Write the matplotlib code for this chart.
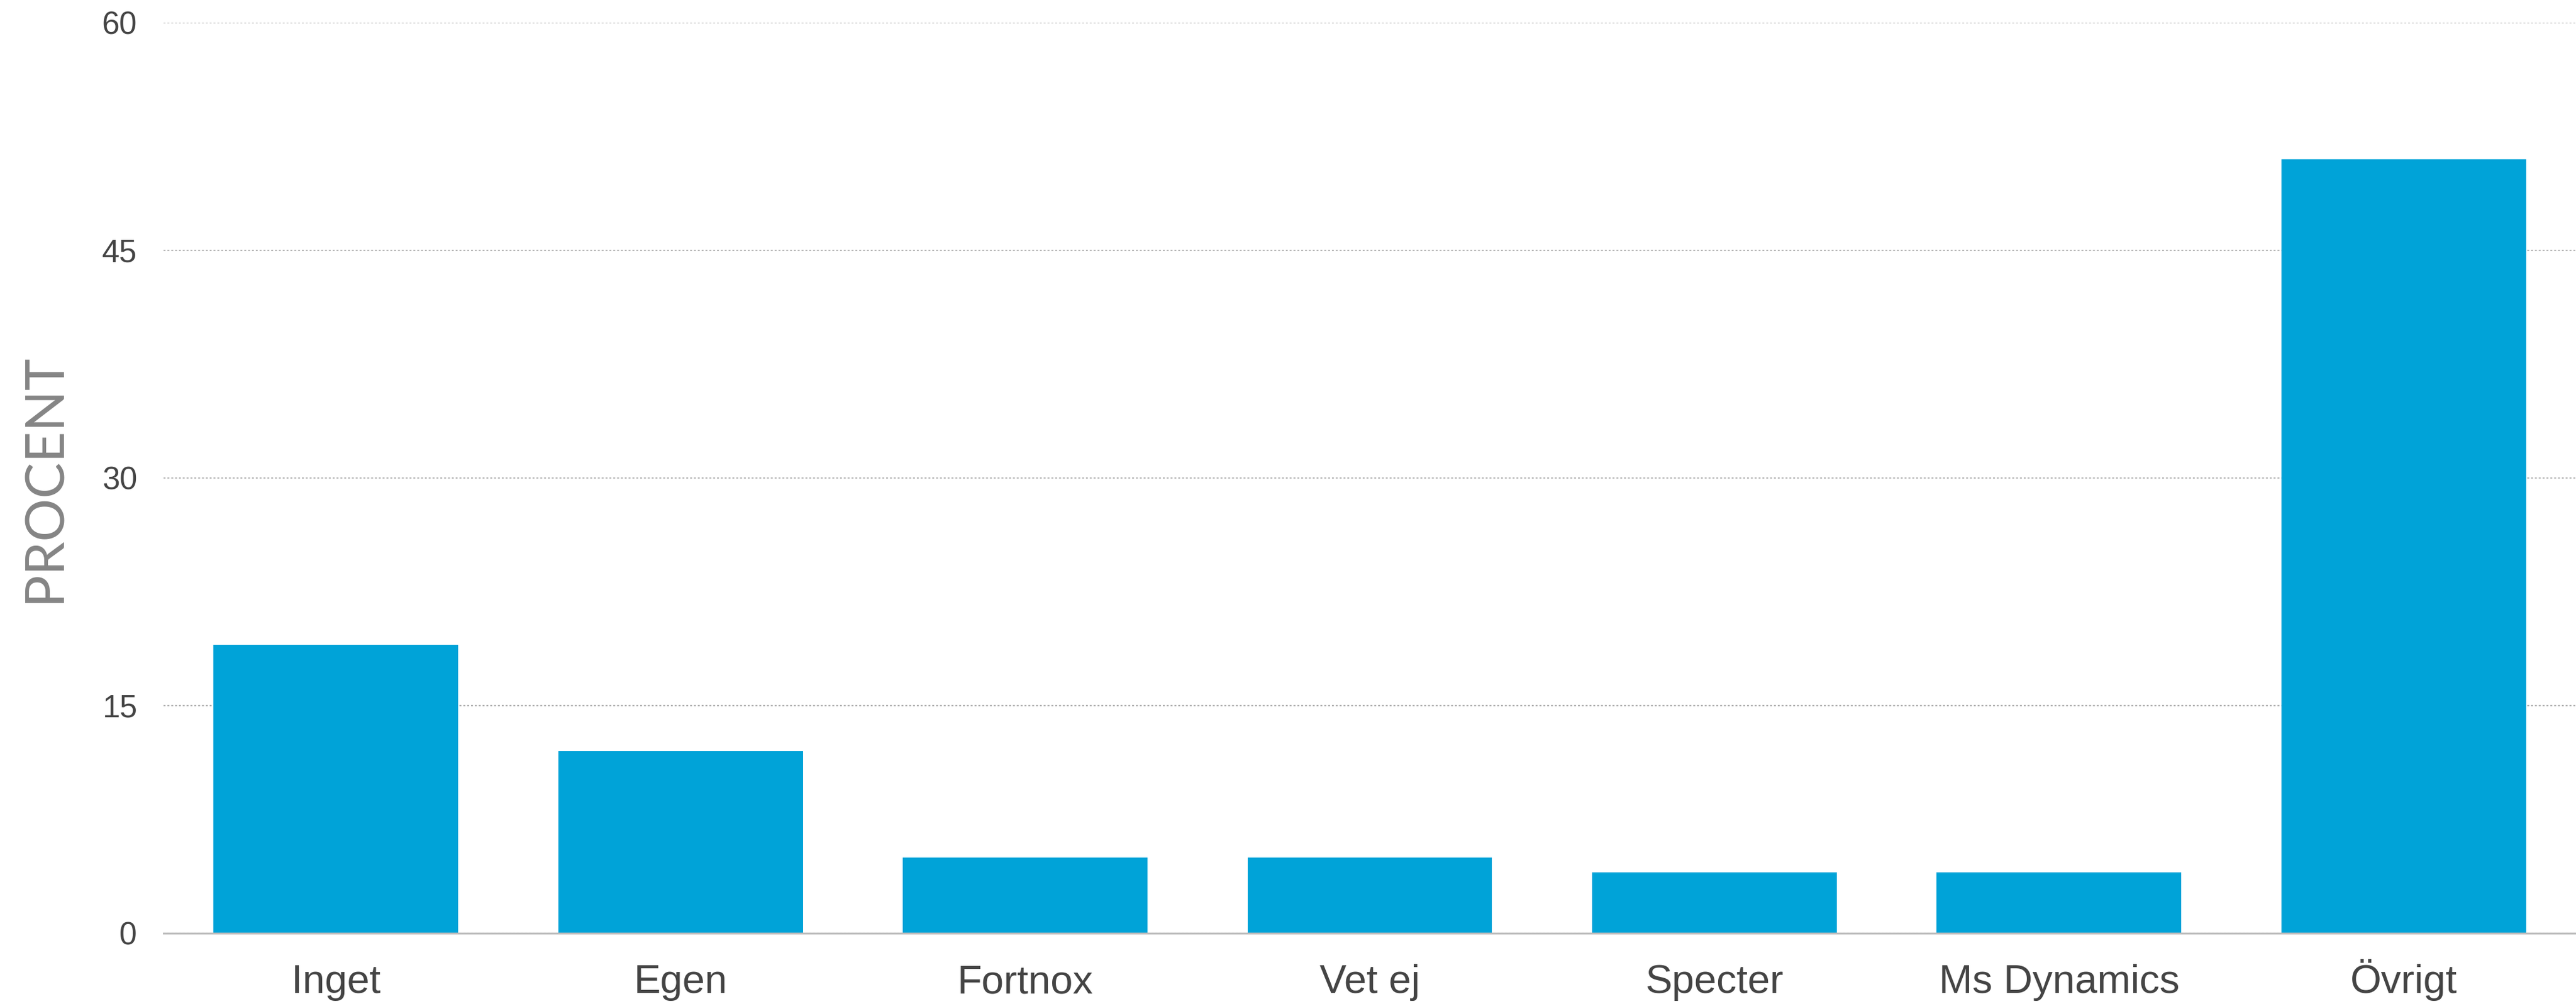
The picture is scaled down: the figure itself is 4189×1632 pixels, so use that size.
import matplotlib
matplotlib.use("Agg")
import matplotlib.pyplot as plt

categories = ["Inget", "Egen", "Fortnox", "Vet ej", "Specter", "Ms Dynamics", "Övrigt"]
values = [19, 12, 5, 5, 4, 4, 51]
yticks = [0, 15, 30, 45, 60]

W, H = 4189, 1632
dpi = 100
fig = plt.figure(figsize=(W / dpi, H / dpi), dpi=dpi)
ax = fig.add_axes([266 / W, (H - 1517) / H, 1 - 266 / W, (1517 - 37) / H])

ax.bar(range(len(categories)), values, width=0.71, color="#00A3D8", zorder=3)
ax.set_xlim(-0.5, len(categories) - 0.5)
ax.set_ylim(0, 60)
ax.set_yticks(yticks)
ax.set_xticks(range(len(categories)))
ax.set_xticklabels(categories, fontsize=47, color="#444444",
                   family=["Liberation Sans", "DejaVu Sans"])
ax.set_yticklabels([str(t) for t in yticks], fontsize=37, color="#444444",
                   family=["Liberation Sans", "DejaVu Sans"])
for lab in ax.get_xticklabels():
    lab.set_verticalalignment("baseline")
ax.tick_params(axis="both", length=0)
ax.tick_params(axis="y", pad=31)
ax.tick_params(axis="x", pad=70)

for s in ["top", "right", "left"]:
    ax.spines[s].set_visible(False)
ax.spines["bottom"].set_color("#bdbdbd")
ax.spines["bottom"].set_linewidth(2.2)
ax.spines["bottom"].set_zorder(4)

ax.yaxis.grid(True, linestyle=(0, (1.5, 1.5)), color="#b5b5b5", linewidth=1.5, zorder=0)
ax.set_axisbelow(True)

ax.set_ylabel("PROCENT", fontsize=63, color="#858585", fontweight="normal",
              family=["Lato", "DejaVu Sans"], labelpad=38)

fig.savefig("out.png", dpi=dpi)
